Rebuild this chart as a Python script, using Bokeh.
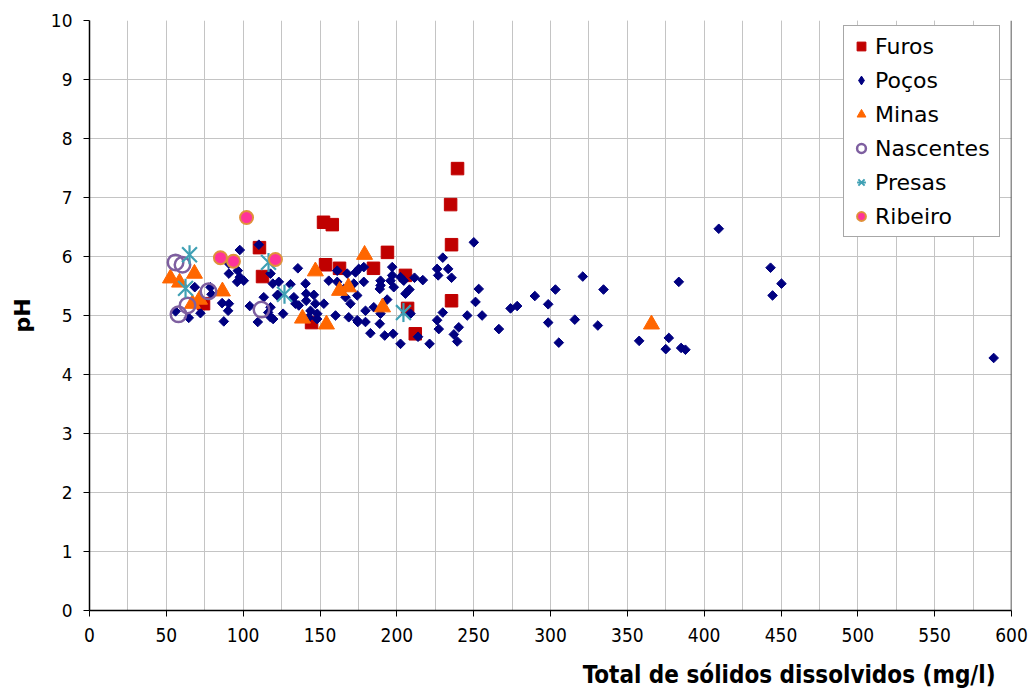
import math
from bokeh.plotting import figure
from bokeh.models import (SingleIntervalTicker, FixedTicker, LinearAxis, Span, Legend,
                          LegendItem, Title)
from bokeh.embed import file_html
from bokeh.resources import INLINE

furos_x = [239.5, 235.0, 235.6, 235.6, 152.3, 158.0, 110.6, 112.6, 74.2, 193.9,
           153.6, 162.7, 184.8, 205.6, 207.0, 212.0, 144.5]
furos_y = [7.49, 6.88, 6.20, 5.25, 6.58, 6.54, 6.15, 5.66, 5.20, 6.07,
           5.86, 5.80, 5.80, 5.68, 5.12, 4.69, 4.88]

pocos_x = [97.8, 110.2, 68.5, 78.7, 79.4, 56.0, 64.6, 72.2, 86.3, 90.7, 90.2, 87.4,
           90.7, 90.7, 96.5, 97.8, 100.4, 96.1, 104.3, 117.8, 119.3, 122.1, 113.4,
           109.5, 117.8, 119.5, 116.3,
           126.0, 135.6, 123.2, 130.8, 140.6, 133.0, 141.0, 146.0, 136.2, 141.0, 147.0,
           152.5, 143.8, 148.2, 142.7, 155.7, 161.2, 167.7, 161.2, 165.5, 173.1, 175.2,
           178.5, 172.0, 178.5, 174.2, 166.6, 169.8, 160.1, 168.7, 174.2, 179.6, 179.6,
           185.0, 189.4, 189.4, 197.0, 197.0, 195.9, 198.0, 202.4, 204.5, 211.5, 216.9,
           208.2, 205.6, 193.7, 189.4, 182.8, 188.9, 192.1, 197.6, 202.4, 208.9, 213.8,
           221.3, 226.2, 229.9, 233.4, 226.9, 235.6, 250.1, 253.3, 251.2, 255.5, 245.8,
           229.9, 226.2, 227.3, 240.3, 237.1, 239.3, 266.4,
           122.5, 134.0, 148.1, 117.8, 174.6, 188.9,
           274.0, 278.3, 289.8, 298.5, 303.2, 298.5, 305.4, 321.0, 315.8, 330.8, 334.5,
           357.7, 383.5, 377.0, 375.0, 385.0, 387.8, 409.5, 443.2, 444.5, 450.3, 588.4]
pocos_y = [6.11, 6.20, 5.48, 5.48, 5.36, 5.07, 4.96, 5.04, 5.21, 5.20, 5.08, 4.90,
           5.88, 5.71, 5.76, 5.65, 5.59, 5.57, 5.16, 5.71, 5.54, 5.34, 5.31,
           4.89, 4.97, 4.94, 5.05,
           5.03, 5.80, 5.57, 5.53, 5.54, 5.31, 5.37, 5.35, 5.17, 5.25, 5.20,
           5.20, 5.08, 5.03, 4.97, 5.59, 5.76, 5.71, 5.57, 5.45, 5.73, 5.79,
           5.82, 5.54, 5.57, 5.34, 5.31, 5.20, 5.00, 4.97, 4.92, 4.89, 5.08,
           5.14, 5.59, 5.51, 5.82, 5.68, 5.59, 5.48, 5.65, 5.59, 5.64, 5.60,
           5.44, 5.37, 5.27, 5.03, 4.70, 4.86, 4.66, 4.69, 4.52, 5.03, 4.64,
           4.52, 5.79, 5.98, 5.79, 5.68, 5.64, 6.24, 5.45, 5.23, 5.00, 5.00,
           5.05, 4.92, 4.77, 4.80, 4.68, 4.56, 4.77,
           5.35, 5.20, 4.94, 5.14, 4.89, 5.45,
           5.12, 5.16, 5.33, 5.19, 5.44, 4.88, 4.54, 5.66, 4.93, 4.83, 5.44,
           4.57, 5.57, 4.62, 4.43, 4.45, 4.42, 6.47, 5.81, 5.34, 5.54, 4.28]

minas_x = [52.7, 58.6, 68.3, 67.0, 71.6, 86.5, 147.0, 179.0, 162.7, 168.5, 190.7,
           138.6, 154.2, 365.7]
minas_y = [5.63, 5.56, 5.71, 5.20, 5.27, 5.41, 5.75, 6.03, 5.42, 5.48, 5.14,
           4.95, 4.85, 4.85]

nascentes_x = [56.0, 60.5, 77.4, 63.8, 57.9, 111.9]
nascentes_y = [5.90, 5.86, 5.41, 5.17, 5.02, 5.10]

presas_x = [65.1, 62.5, 116.5, 126.9, 204.3]
presas_y = [6.03, 5.46, 5.90, 5.36, 5.05]

ribeiro_x = [102.2, 85.2, 93.7, 121.0]
ribeiro_y = [6.66, 5.98, 5.92, 5.95]

x_title = "Total de sólidos dissolvidos (mg/l)"
y_title = "pH"

p = figure(width=1031, height=691, x_range=(0, 600), y_range=(0, 10),
           output_backend="svg", toolbar_location=None,
           min_border_left=89, min_border_right=20, min_border_top=20,
           min_border_bottom=81)
p.outline_line_color = None
p.background_fill_color = "white"

p.xaxis.ticker = SingleIntervalTicker(interval=50, num_minor_ticks=2)
p.yaxis.ticker = SingleIntervalTicker(interval=1, num_minor_ticks=0)
p.xgrid.grid_line_color = "#c4c4c4"
p.xgrid.minor_grid_line_color = "#c4c4c4"
p.ygrid.grid_line_color = "#c4c4c4"
for ax in (p.xaxis, p.yaxis):
    ax.axis_line_color = "black"
    ax.axis_line_width = 1.5
    ax.major_tick_line_color = "black"
    ax.major_tick_out = 6
    ax.major_tick_in = 0
    ax.minor_tick_line_color = None
    ax.major_label_text_color = "black"
p.xaxis.major_label_text_font = "DejaVu Sans Condensed"
p.xaxis.major_label_text_font_size = "19px"
p.xaxis.major_label_standoff = 11
p.yaxis.major_label_text_font = "DejaVu Sans"
p.yaxis.major_label_text_font_size = "17px"
p.yaxis.major_label_standoff = 11
p.yaxis.axis_label = y_title
p.yaxis.axis_label_text_font = "DejaVu Sans"
p.yaxis.axis_label_text_font_style = "bold"
p.yaxis.axis_label_text_font_size = "22px"
p.yaxis.axis_label_text_color = "black"
p.yaxis.axis_label_standoff = 13

# spacer axis: a single white (invisible) tick, no label; it only adds room
# between the tick labels and the x title
spacer = LinearAxis(ticker=FixedTicker(ticks=[0]), axis_line_color=None,
                    major_tick_line_color="white", minor_tick_line_color=None,
                    major_tick_out=14, major_tick_in=0, minor_tick_out=0,
                    major_label_overrides={0: ""}, major_label_standoff=0,
                    major_label_text_color=None)
p.add_layout(spacer, "below")

p.add_layout(Span(location=600, dimension="height", line_color="#202020",
                  line_width=1.5))

r_furos = p.scatter(furos_x, furos_y, marker="square", size=12.5,
                    fill_color="#c00000", line_color="#c00000")
r_pocos = p.scatter(pocos_x, pocos_y, marker="square", size=6.8, angle=math.pi / 4,
                    fill_color="#000080", line_color="#000080")
r_minas = p.scatter(minas_x, minas_y, marker="triangle", size=16,
                    fill_color="#ff6600", line_color="#ff6600")
r_nasc = p.scatter(nascentes_x, nascentes_y, marker="circle", size=15.5,
                   fill_color=None, line_color="#7e5fa0", line_width=2.5)
r_pres1 = p.scatter(presas_x, presas_y, marker="x", size=21,
                    line_color="#3fa0b4", line_width=2.2)
r_pres2 = p.scatter(presas_x, presas_y, marker="dash", size=19, angle=math.pi / 2,
                    line_color="#3fa0b4", line_width=2.2)
r_rib = p.scatter(ribeiro_x, ribeiro_y, marker="circle", size=13,
                  fill_color="#ff3399", line_color="#e0903a", line_width=2)

# legend-only glyphs (no data drawn)
nan = float("nan")
lg_pocos = p.scatter([nan], [nan], marker="diamond", size=12,
                     fill_color="#000080", line_color="#000080")
lg_pres1 = p.scatter([nan], [nan], marker="x", size=19,
                     line_color="#3fa0b4", line_width=2)
lg_pres2 = p.scatter([nan], [nan], marker="dash", size=17, angle=math.pi / 2,
                     line_color="#3fa0b4", line_width=2)

legend = Legend(items=[
    LegendItem(label="Furos", renderers=[r_furos]),
    LegendItem(label="Poços", renderers=[lg_pocos]),
    LegendItem(label="Minas", renderers=[r_minas]),
    LegendItem(label="Nascentes", renderers=[r_nasc]),
    LegendItem(label="Presas", renderers=[lg_pres1, lg_pres2]),
    LegendItem(label="Ribeiro", renderers=[r_rib]),
], location=(754, 373), margin=0, padding=6, spacing=6,
    glyph_width=22, glyph_height=28, label_height=28, label_width=118,
    label_standoff=3, label_text_font="DejaVu Sans", label_text_font_size="22px",
    label_text_color="black", border_line_color="#505050", border_line_width=1,
    background_fill_color="white", background_fill_alpha=1.0)
p.add_layout(legend)

t = Title(text=x_title, align="right", offset=16, text_font="DejaVu Sans Condensed",
          text_font_size="24px", text_font_style="bold", text_color="black",
          standoff=0)
p.add_layout(t, "below")

open("out.html", "w").write(file_html(p, INLINE))
